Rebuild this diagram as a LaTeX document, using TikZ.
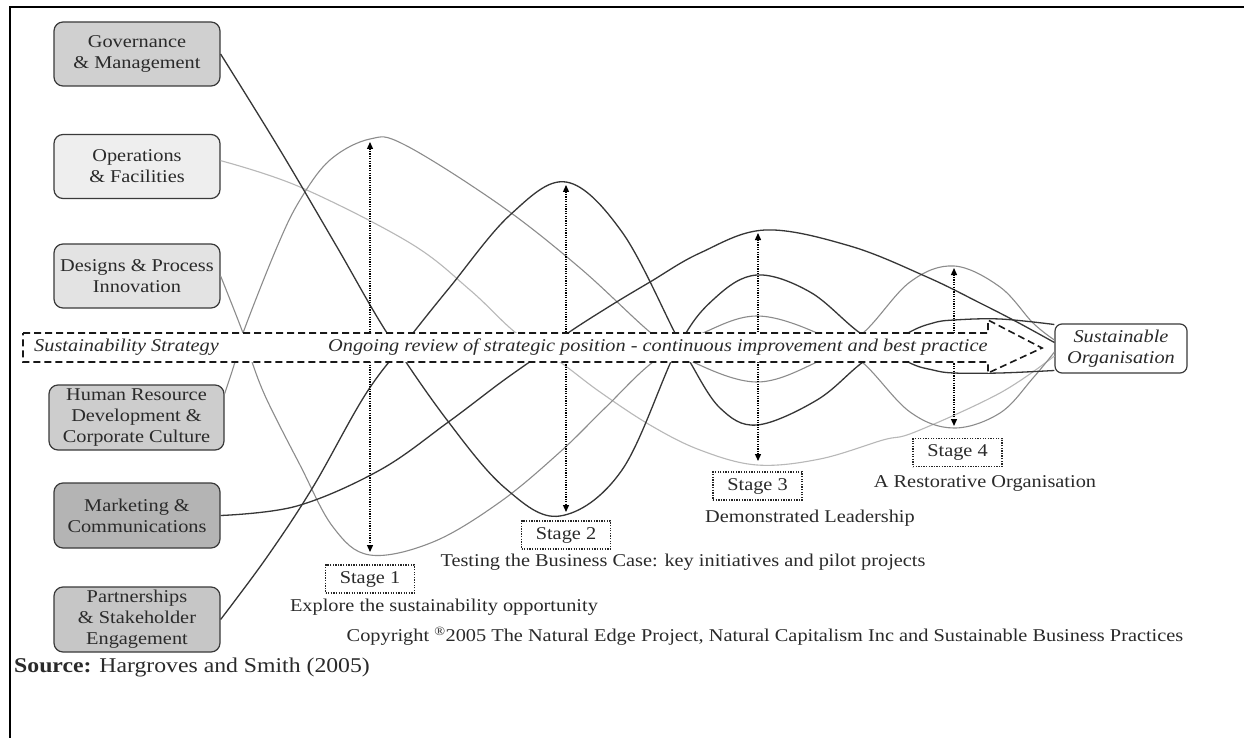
\documentclass[tikz,border=0pt]{standalone}
\usepackage{fontspec}
\setmainfont{Liberation Serif}[FakeStretch=1.13]
\usetikzlibrary{arrows.meta,calc}
\definecolor{darkln}{HTML}{363636}
\definecolor{grayln}{HTML}{8C8C8C}
\definecolor{lightln}{HTML}{B8B8B8}
\definecolor{boxln}{HTML}{3A3A3A}
\definecolor{txt}{HTML}{2A2A2A}
\definecolor{fgov}{HTML}{D0D0D0}
\definecolor{fops}{HTML}{EEEEEE}
\definecolor{fdes}{HTML}{E3E3E3}
\definecolor{fhr}{HTML}{CDCDCD}
\definecolor{fmkt}{HTML}{B4B4B4}
\definecolor{fpar}{HTML}{C6C6C6}
\begin{document}
\begin{tikzpicture}[x=1pt,y=-1pt,
  every node/.style={text=txt},
  srcbox/.style={draw=boxln, line width=1.2pt, rounded corners=9pt, minimum width=166pt, minimum height=64pt, inner sep=0pt, align=center, font=\fontsize{18}{21}\selectfont},
  stagebox/.style={draw=black!85, line width=1.1pt, dash pattern=on 1.3pt off 1.3pt, minimum width=89pt, minimum height=28pt, inner sep=0pt, font=\fontsize{18}{21}\selectfont, fill=white},
  lbl/.style={font=\fontsize{18}{21}\selectfont, inner sep=0pt},
  darkc/.style={draw=darkln, line width=1.3pt},
  grayc/.style={draw=grayln, line width=1.1pt},
  lightc/.style={draw=lightln, line width=1.1pt},
  stagearr/.style={line width=1.3pt, dash pattern=on 1.2pt off 1.2pt, {Triangle[length=7pt,width=6pt]}-{Triangle[length=7pt,width=6pt]}},
  bandshape/.style={draw=black!90, line width=1.6pt, dash pattern=on 7pt off 4pt, fill=white},
]
\useasboundingbox (0,0) rectangle (1244,738);
\fill[white] (0,0) rectangle (1244,738);
% frame
\draw[line width=2pt] (10,738) -- (10,7) -- (1244,7);

% source boxes
\node[srcbox, fill=fgov] (gov) at (137,54) {Governance\\\& Management};
\node[srcbox, fill=fops] (ops) at (137,166.5) {Operations\\\& Facilities};
\node[srcbox, fill=fdes] (des) at (137,276) {Designs \& Process\\Innovation};
\node[srcbox, fill=fhr, minimum width=175pt, minimum height=65pt] (hr) at (136.5,417.5) {Human Resource\\Development \&\\Corporate Culture};
\node[srcbox, fill=fmkt, minimum height=65pt] (mkt) at (137,515.5) {Marketing \&\\Communications};
\node[srcbox, fill=fpar, minimum height=65pt] (par) at (137,619.5) {Partnerships\\\& Stakeholder\\Engagement};

% target
\node[draw=boxln, line width=1.2pt, rounded corners=7pt, minimum width=132pt, minimum height=49pt, inner sep=0pt, align=center, fill=white, font=\itshape\fontsize{18}{21}\selectfont] (so) at (1121,348.5) {Sustainable\\Organisation};
\coordinate (eTop) at ($(so.west)+(0,-24)$);
\coordinate (eMkt) at ($(so.west)+(0,-6)$);
\coordinate (eHR) at ($(so.west)+(0,-8.5)$);
\coordinate (eOps) at ($(so.west)+(0,7.5)$);
\coordinate (eDes) at ($(so.west)+(0,3.5)$);
\coordinate (eBot) at ($(so.west)+(0,22)$);

% curves
\draw[lightc] plot[smooth, tension=0.6] coordinates {(ops.4) (300,187) (410,243) (470,290) (516,333) (560,362) (600,392) (650,425) (700,450) (757,465) (820,459) (883,440) (915,432) (1000,393) (eOps)};
\draw[grayc] plot[smooth, tension=0.6] coordinates {(des.east) (243,333) (252,362) (267,400) (300,465) (333,527) (370,555) (433,542) (500,502) (560,452) (605,408) (653,362) (703,333) (757,316) (817,333) (862,362) (910,412) (954,428) (1000,413) (1033,378) (eDes)};
\draw[grayc] plot[smooth, tension=0.6] coordinates {(hr.15) (235,362) (243,333) (277,247) (300,200) (330,160) (370,139) (405,145) (500,205) (580,268) (651,333) (693,362) (757,382) (817,362) (863,333) (910,282) (954,266) (1000,287) (1033,323) (eHR)};
\draw[darkc] plot[smooth, tension=0.6] coordinates {(gov.east) (280,150) (337,247) (387,333) (447,420) (505,488) (560,516) (622,470) (678,347) (715,298) (757,275) (810,292) (860,333) (908,362) (933,370) (954,373) (1000,373) (eBot)};
\draw[darkc] plot[smooth, tension=0.6] coordinates {(par.east) (267,557) (313,487) (367,392) (413,333) (450,287) (510,215) (566,182) (622,232) (675,333) (690,362) (720,408) (757,425) (817,400) (863,362) (908,333) (933,323) (954,320) (1000,319) (eTop)};
\draw[darkc] plot[smooth, tension=0.6] coordinates {(mkt.east) (297,506) (380,470) (447,423) (500,383) (535,358) (568,333) (610,306) (650,282) (700,253) (765,230) (850,246) (927,277) (980,303) (1017,322) (eMkt)};

% stage arrows
\draw[stagearr] (370,142) -- (370,552);
\draw[stagearr] (566,185) -- (566,512);
\draw[stagearr] (758,233) -- (758,461);
\draw[stagearr] (954,268) -- (954,426);

% band
\draw[bandshape] (23,333) -- (988,333) -- (988,320) -- (1042,348) -- (988,373) -- (988,362) -- (23,362) -- cycle;
\node[lbl, anchor=west, font=\itshape\fontsize{18}{21}\selectfont] (strat) at (34,347) {Sustainability Strategy};
\node[lbl, anchor=west, font=\itshape\fontsize{18}{21}\selectfont] (review) at (328,347) {Ongoing review of strategic position - continuous improvement and best practice};

% stage labels
\node[stagebox] (s1) at (370,579) {Stage 1};
\node[stagebox] (s2) at (566,535) {Stage 2};
\node[stagebox] (s3) at (757.5,486) {Stage 3};
\node[stagebox] (s4) at (957.5,452.5) {Stage 4};
\node[lbl] (t1) at (444,607) {Explore the sustainability opportunity};
\node[lbl] (t2) at (683,562) {Testing the Business Case: key initiatives and pilot projects};
\node[lbl] (t3) at (810,518) {Demonstrated Leadership};
\node[lbl] (t4) at (985,483) {A Restorative Organisation};
\node[lbl] (copy) at (765,636) {Copyright \textsuperscript{®}2005 The Natural Edge Project, Natural Capitalism Inc and Sustainable Business Practices};
\node[lbl, anchor=west, font=\fontsize{21}{24}\selectfont] (src) at (14,667) {\textbf{Source:} Hargroves and Smith (2005)};
\end{tikzpicture}
\end{document}
